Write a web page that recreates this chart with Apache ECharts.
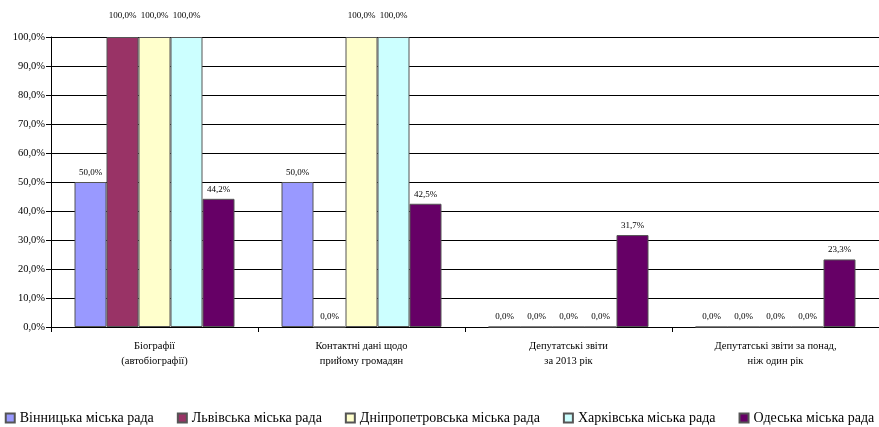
<!DOCTYPE html>
<html><head><meta charset="utf-8">
<script src="https://cdn.jsdelivr.net/npm/echarts@6/dist/echarts.min.js"></script>
<style>html,body{margin:0;padding:0;background:#fff}#c{width:879px;height:427px}</style>
</head><body><div id="c"></div>
<script>
const categories = ['Біографії\n(автобіографії)', 'Контактні дані щодо\nприйому громадян', 'Депутатські звіти\nза 2013 рік', 'Депутатські звіти за понад,\nніж один рік'];
const seriesNames = ['Вінницька міська рада', 'Львівська міська рада', 'Дніпропетровська міська рада', 'Харківська міська рада', 'Одеська міська рада'];
const vinnytsia = [50.0, 50.0, 0.0, 0.0];
const lviv = [100.0, 0.0, 0.0, 0.0];
const dnipro = [100.0, 100.0, 0.0, 0.0];
const kharkiv = [100.0, 100.0, 0.0, 0.0];
const odesa = [44.2, 42.5, 31.7, 23.3];
const yTicks = [0, 10, 20, 30, 40, 50, 60, 70, 80, 90, 100];
const colors = ['#9999FF', '#993366', '#FFFFCC', '#CCFFFF', '#660066'];
const allData = [vinnytsia, lviv, dnipro, kharkiv, odesa];
const font = "'Liberation Serif', 'DejaVu Serif', serif";
const fmt = v => v.toFixed(1).replace('.', ',') + '%';
const chart = echarts.init(document.getElementById('c'));
chart.setOption({
  animation: false,
  textStyle: { fontFamily: font },
  grid: { left: 51, right: 0, top: 37, bottom: 100, containLabel: false },
  legend: {
    bottom: 2, left: 'center', padding: 0, icon: 'rect', itemWidth: 9, itemHeight: 9, itemGap: 23,
    textStyle: { fontFamily: font, fontSize: 14, color: '#000' },
    data: seriesNames
  },
  xAxis: {
    type: 'category', data: categories,
    axisLine: { lineStyle: { color: '#000', width: 1 } },
    axisTick: { show: true, lineStyle: { color: '#000' }, length: 5 },
    axisLabel: { color: '#000', fontFamily: font, fontSize: 10.5, margin: 12, lineHeight: 15, interval: 0 }
  },
  yAxis: {
    type: 'value', min: 0, max: 100, interval: 10,
    axisLine: { show: true, lineStyle: { color: '#000', width: 1 } },
    axisTick: { show: true, lineStyle: { color: '#000' }, length: 5 },
    splitLine: { lineStyle: { color: '#000', width: 1 } },
    axisLabel: { color: '#000', fontFamily: font, fontSize: 10.5, margin: 6, formatter: v => fmt(v) }
  },
  series: seriesNames.map((n, i) => ({
    name: n, type: 'bar',
    data: allData[i].map(v => v >= 100 ? { value: v, label: { distance: 17 } } : v),
    barWidth: 32, barGap: '0%',
    itemStyle: { color: colors[i], borderColor: '#555', borderWidth: 1 },
    label: { show: true, position: 'top', distance: 5, formatter: p => fmt(p.value), fontFamily: font, fontSize: 9, color: '#000' }
  }))
});
</script></body></html>
